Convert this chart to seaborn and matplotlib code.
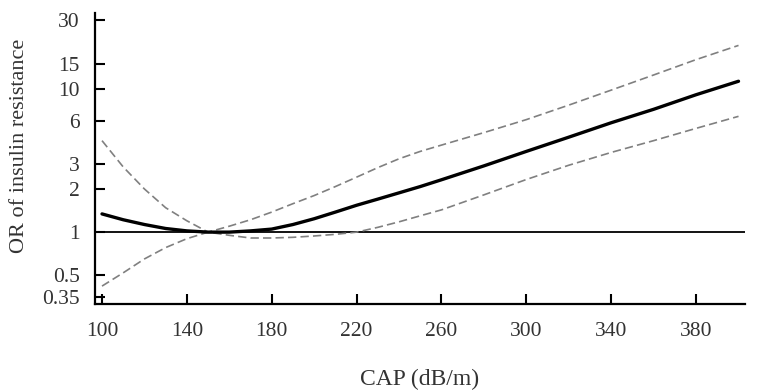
import numpy as np
import pandas as pd
import matplotlib
matplotlib.use("Agg")
import matplotlib.pyplot as plt
from matplotlib.ticker import NullLocator
import seaborn as sns

# CAP values (dB/m) and the read-off odds ratios
cap = [100, 110, 120, 130, 140, 150, 160, 170, 180, 190, 200, 210, 220,
       230, 240, 250, 260, 280, 300, 320, 340, 360, 380, 400]
or_est = [1.34, 1.22, 1.13, 1.06, 1.02, 1.00, 1.00, 1.02, 1.05, 1.13, 1.24,
          1.38, 1.54, 1.70, 1.88, 2.08, 2.32, 2.90, 3.66, 4.60, 5.80, 7.20,
          9.10, 11.3]
or_upper = [4.35, 2.85, 2.00, 1.48, 1.20, 1.00, 1.10, 1.22, 1.38, 1.58, 1.80,
            2.08, 2.42, 2.82, 3.25, 3.66, 4.05, 4.95, 6.10, 7.70, 9.80, 12.5,
            16.0, 20.1]
or_lower = [0.42, 0.52, 0.65, 0.78, 0.90, 1.00, 0.95, 0.91, 0.91, 0.92, 0.94,
            0.965, 1.00, 1.08, 1.18, 1.30, 1.43, 1.82, 2.33, 2.93, 3.60, 4.35,
            5.30, 6.43]

y_ticks = [0.35, 0.5, 1, 2, 3, 6, 10, 15, 30]
y_tick_labels = ["0.35", "0.5", "1", "2", "3", "6", "10", "15", "30"]
x_ticks = [100, 140, 180, 220, 260, 300, 340, 380]

df = pd.DataFrame({"cap": cap, "est": or_est, "upper": or_upper, "lower": or_lower})

sns.set_style("ticks")
plt.rcParams["font.family"] = ["Liberation Serif", "DejaVu Serif"]

fig = plt.figure(figsize=(7.57, 3.91), dpi=100)
ax = fig.add_axes([0.1255, 0.2225, 0.8585, 0.745])

# reference line at OR = 1
ax.axhline(1, color="black", lw=1.3, zorder=1)

sns.lineplot(data=df, x="cap", y="upper", ax=ax, color="#808080", lw=1.2,
             dashes=False, linestyle=(0, (5, 2.5)))
sns.lineplot(data=df, x="cap", y="lower", ax=ax, color="#808080", lw=1.2,
             dashes=False, linestyle=(0, (5, 2.5)))
sns.lineplot(data=df, x="cap", y="est", ax=ax, color="black", lw=2.4)

ax.set_yscale("log")
ax.set_ylim(0.315, 34)
ax.set_xlim(96.7, 403)
ax.set_yticks(y_ticks)
ax.set_yticklabels(y_tick_labels)
ax.yaxis.set_minor_locator(NullLocator())
ax.set_xticks(x_ticks)

for side in ["top", "right"]:
    ax.spines[side].set_visible(False)
for side in ["left", "bottom"]:
    ax.spines[side].set_linewidth(1.6)
    ax.spines[side].set_color("black")

ax.tick_params(axis="both", direction="in", length=7, width=1.5, color="black",
               labelsize=15.5, labelcolor="#333333")
ax.tick_params(axis="x", pad=13)
ax.tick_params(axis="y", pad=11)

ax.set_xlabel("CAP (dB/m)", fontsize=17, color="#333333", labelpad=20)
ax.set_ylabel("OR of insulin resistance", fontsize=16, color="#333333")
ax.yaxis.set_label_coords(-0.102, 0.542)

fig.savefig("out.png", dpi=100)
